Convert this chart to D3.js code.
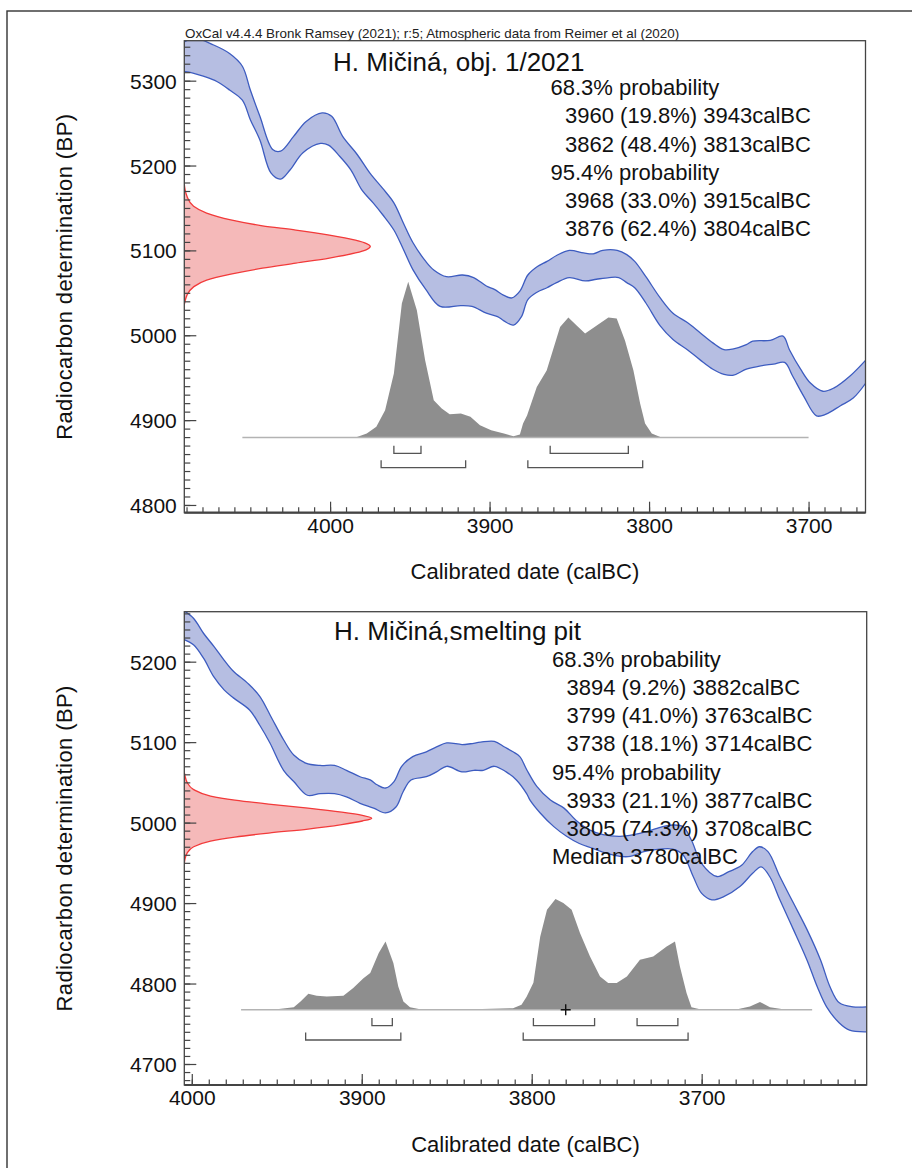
<!DOCTYPE html>
<html><head><meta charset="utf-8">
<script src="https://cdn.jsdelivr.net/npm/d3@7"></script>
<style>
html,body{margin:0;padding:0;background:#fff;}
svg{display:block;font-family:"Liberation Sans",Arial,Helvetica,sans-serif;}
</style></head><body>
<svg id="chart" width="912" height="1168"></svg>
<script>
// ---------------- DATA ----------------
const headerText = "OxCal v4.4.4 Bronk Ramsey (2021); r:5; Atmospheric data from Reimer et al (2020)";
const topTitle = "H. Mičiná, obj. 1/2021";
const bottomTitle = "H. Mičiná,smelting pit";
const xAxisLabel = "Calibrated date (calBC)";
const yAxisLabel = "Radiocarbon determination (BP)";

const xTicksTop = [4000, 3900, 3800, 3700];
const yTicksTop = [5300, 5200, 5100, 5000, 4900, 4800];
const xTicksBottom = [4000, 3900, 3800, 3700];
const yTicksBottom = [5200, 5100, 5000, 4900, 4800, 4700];

// calibration curve band, [calBC, BP]
const topCurveUpper = [[4092,5345],[4085,5350],[4073,5342],[4063,5332],[4055,5317],[4050,5289],[4044,5258],[4036,5219],[4031,5217],[4023,5234],[4015,5252],[4005,5262],[3999,5258],[3992,5234],[3983,5213],[3975,5191],[3967,5173],[3960,5156],[3954,5132],[3948,5109],[3940,5087],[3935,5077],[3927,5069],[3917,5071],[3910,5068],[3902,5058],[3897,5054],[3891,5047],[3886,5044],[3881,5052],[3876,5071],[3870,5081],[3864,5087],[3858,5094],[3850,5100],[3841,5097],[3835,5096],[3829,5100],[3820,5100],[3814,5095],[3809,5087],[3802,5069],[3793,5044],[3785,5026],[3776,5015],[3768,5003],[3760,4991],[3753,4983],[3747,4984],[3739,4989],[3735,4993],[3724,4994],[3716,4999],[3712,4983],[3705,4960],[3699,4944],[3691,4934],[3684,4938],[3674,4952],[3664,4971]];
const topCurveLower = [[4092,5311],[4086,5309],[4079,5305],[4071,5299],[4063,5289],[4055,5277],[4050,5254],[4044,5230],[4037,5191],[4031,5184],[4025,5195],[4017,5215],[4006,5226],[4001,5224],[3994,5211],[3987,5195],[3980,5171],[3973,5156],[3967,5142],[3960,5124],[3954,5101],[3948,5077],[3940,5054],[3931,5034],[3918,5035],[3911,5034],[3902,5026],[3895,5022],[3891,5017],[3885,5012],[3880,5022],[3876,5042],[3870,5051],[3864,5056],[3858,5062],[3850,5068],[3840,5064],[3833,5066],[3825,5068],[3819,5068],[3814,5062],[3809,5056],[3802,5038],[3793,5011],[3785,4995],[3776,4983],[3768,4971],[3760,4960],[3753,4954],[3747,4953],[3739,4960],[3730,4964],[3722,4966],[3715,4968],[3710,4952],[3703,4928],[3695,4905],[3689,4907],[3680,4917],[3672,4926],[3664,4944]];
const bottomCurveUpper = [[4005,5264],[3999,5254],[3993,5235],[3987,5219],[3981,5202],[3975.5,5188],[3967,5173],[3960,5157],[3953,5130],[3946,5103],[3940,5084],[3933,5074],[3924.5,5071],[3916,5071],[3909,5065],[3901,5057],[3895,5053],[3891,5047],[3886,5043],[3881,5051],[3876.5,5070],[3870,5082],[3862,5088],[3856,5094],[3850,5099],[3841,5097],[3836,5098],[3830,5100],[3822,5101],[3816,5094],[3811,5088],[3807,5082],[3803,5066],[3797,5045],[3789,5028],[3781,5018],[3774,5003],[3766,4991],[3758,4985],[3748,4983],[3740,4985],[3732,4989],[3723,4995],[3717,4997],[3711,4995],[3706,4978],[3700,4949],[3691,4933],[3684,4939],[3676.5,4947],[3670,4964],[3666,4970],[3661,4964],[3654,4933],[3646,4900],[3638,4867],[3630,4829],[3624.5,4796],[3619,4776],[3611,4771],[3603,4771]];
const bottomCurveLower = [[4005,5228],[3999,5221],[3993,5204],[3987,5181],[3981,5165],[3975.5,5155],[3966,5140],[3960,5121],[3954,5099],[3946,5065],[3940,5051],[3932,5034],[3924.5,5036],[3916,5036],[3909,5032],[3901,5024],[3893,5018],[3886,5012],[3880,5019],[3875.5,5039],[3871,5053],[3862,5057],[3856,5063],[3850,5070],[3841,5063],[3834,5065],[3828.5,5065],[3822,5070],[3815,5063],[3809,5053],[3803,5036],[3801,5028],[3795,5012],[3787,4995],[3779.5,4983],[3772,4974],[3764,4968],[3756,4962],[3748,4958],[3742,4958],[3734,4964],[3724.5,4967],[3717,4967],[3711,4960],[3705,4933],[3700,4912],[3694,4904],[3687,4908],[3677.5,4920.5],[3670,4937],[3665,4945],[3660,4933],[3654,4904],[3646,4867],[3638,4829],[3632,4796],[3626.5,4771],[3619,4751],[3613,4742],[3603,4740]];

// radiocarbon determination (red), [BP, relative density]
const topDate = [[5178,0],[5172,0.004],[5164,0.014],[5152,0.05],[5144,0.12],[5136,0.25],[5129,0.42],[5124,0.6],[5118,0.78],[5112,0.92],[5108,0.98],[5104.5,1],[5101,0.98],[5097,0.92],[5091,0.78],[5085,0.6],[5079,0.42],[5072,0.25],[5065,0.12],[5057,0.05],[5047,0.014],[5040,0.004],[5036,0]];
const bottomDate = [[5062,0],[5058,0.004],[5050,0.015],[5041,0.05],[5033,0.14],[5028,0.27],[5023,0.45],[5018,0.66],[5013,0.84],[5009,0.95],[5005.5,1],[5002,0.95],[4997.5,0.84],[4992,0.66],[4987,0.45],[4982,0.27],[4977,0.14],[4970,0.05],[4962,0.015],[4955,0.004],[4949,0]];

// calibrated posterior (grey), [calBC, relative probability]
const topPosterior = [[4055,0],[3984,0],[3977,0.026],[3971,0.069],[3965.5,0.175],[3960,0.411],[3955,0.861],[3951,1],[3945.6,0.818],[3940.4,0.496],[3935,0.24],[3930,0.186],[3925,0.15],[3918,0.154],[3912,0.133],[3906,0.079],[3899,0.047],[3891,0.026],[3885,0.008],[3881,0.019],[3879,0.09],[3876.5,0.141],[3870.4,0.325],[3864.2,0.43],[3855.8,0.71],[3850.6,0.771],[3845.4,0.719],[3840.1,0.668],[3832.8,0.719],[3825.5,0.771],[3820.3,0.764],[3815.1,0.623],[3809.8,0.43],[3805.6,0.218],[3802.5,0.09],[3798.3,0.026],[3793,0.004],[3785,0],[3700,0]];
const bottomPosterior = [[3971,0],[3950,0.006],[3940,0.024],[3936,0.075],[3931.4,0.145],[3926.5,0.126],[3920.6,0.12],[3910.8,0.126],[3905,0.196],[3899,0.286],[3895,0.332],[3890,0.512],[3886,0.617],[3881.4,0.422],[3878.5,0.21],[3875.5,0.075],[3871.6,0.024],[3865.7,0.006],[3840,0.003],[3811,0.015],[3806,0.045],[3803,0.117],[3799,0.244],[3795,0.659],[3791,0.903],[3786,1],[3781.4,0.964],[3776.5,0.903],[3771.6,0.693],[3765.7,0.481],[3759.8,0.301],[3755,0.241],[3750,0.241],[3744,0.301],[3736.3,0.452],[3728.5,0.481],[3720.6,0.572],[3715.7,0.617],[3712.8,0.391],[3708.9,0.151],[3706,0.024],[3701,0.006],[3679,0.006],[3671.6,0.03],[3665.7,0.07],[3659.8,0.024],[3652,0.006],[3635,0]];

// probability ranges [from, percent, to]
const topRanges68 = [[3960,19.8,3943],[3862,48.4,3813]];
const topRanges95 = [[3968,33.0,3915],[3876,62.4,3804]];
const bottomRanges68 = [[3894,9.2,3882],[3799,41.0,3763],[3738,18.1,3714]];
const bottomRanges95 = [[3933,21.1,3877],[3805,74.3,3708]];
const topMedian = null;
const bottomMedian = 3780;

// ---------------- LAYOUT ----------------
const panels = [
  { frame:{x0:184.3,y0:40.7,x1:865.5,y1:512.7}, xDomain:[4091.4,3664.3], yDomain:[4790.9,5347.1],
    xTicks:xTicksTop, yTicks:yTicksTop, upper:topCurveUpper, lower:topCurveLower,
    date:topDate, dateWidth:186, post:topPosterior, postHeight:155.7,
    r68:topRanges68, r95:topRanges95, median:topMedian, title:topTitle,
    titlePos:[333,70.7], textX:550.5, textIndent:565, textY0:95, textStep:28.25,
    xLabelY:579, header:true },
  { frame:{x0:184.3,y0:611.7,x1:866.7,y1:1085}, xDomain:[4004.4,3602.9], yDomain:[4673.9,5262.1],
    xTicks:xTicksBottom, yTicks:yTicksBottom, upper:bottomCurveUpper, lower:bottomCurveLower,
    date:bottomDate, dateWidth:187.4, post:bottomPosterior, postHeight:110.7,
    r68:bottomRanges68, r95:bottomRanges95, median:bottomMedian, title:bottomTitle,
    titlePos:[334,640], textX:552, textIndent:566.5, textY0:666.7, textStep:28.2,
    xLabelY:1151.5, header:false }
];

const FONT = '"Liberation Sans",Arial,Helvetica,sans-serif';
const svg = d3.select("#chart");

// outer border
svg.append("rect").attr("x",7).attr("y",11).attr("width",940).attr("height",1200)
  .attr("fill","none").attr("stroke","#333").attr("stroke-width",1.4);

svg.append("text").attr("x",185).attr("y",38.3).attr("font-size",13.4)
  .attr("fill","#222").text(headerText);

panels.forEach((P,i) => {
  const f = P.frame;
  const x = d3.scaleLinear().domain(P.xDomain).range([f.x0,f.x1]);
  const y = d3.scaleLinear().domain(P.yDomain).range([f.y1,f.y0]);
  const dx = d3.scaleLinear().domain([0,1]).range([f.x0, f.x0 + P.dateWidth]);
  const baseY = f.y1 - 75.2;
  const py = d3.scaleLinear().domain([0,1]).range([baseY, baseY - P.postHeight]);

  const clipId = "clip"+i;
  svg.append("clipPath").attr("id",clipId).append("rect")
    .attr("x",f.x0).attr("y",f.y0).attr("width",f.x1-f.x0).attr("height",f.y1-f.y0);
  const g = svg.append("g").attr("clip-path",`url(#${clipId})`);

  // calibration band
  const cl = d3.line().x(d=>x(d[0])).y(d=>y(d[1])).curve(d3.curveCatmullRom.alpha(0.5));
  const upPath = cl(P.upper);
  const loPath = cl(P.lower.slice().reverse());
  g.append("path").attr("d", upPath + "L" + loPath.slice(1) + "Z")
    .attr("fill","#b6bee2").attr("stroke","none");
  g.append("path").attr("d", upPath).attr("fill","none").attr("stroke","#3d5cc0").attr("stroke-width",1.3);
  g.append("path").attr("d", cl(P.lower)).attr("fill","none").attr("stroke","#3d5cc0").attr("stroke-width",1.3);

  // radiocarbon date
  const ra = d3.area().y(d=>y(d[0])).x0(f.x0).x1(d=>dx(d[1])).curve(d3.curveMonotoneY);
  g.append("path").datum(P.date).attr("d",ra).attr("fill","#f5b9b9");
  const rl = d3.line().y(d=>y(d[0])).x(d=>dx(d[1])).curve(d3.curveMonotoneY);
  g.append("path").datum(P.date).attr("d",rl).attr("fill","none").attr("stroke","#f23a3a").attr("stroke-width",1.3);

  // posterior
  const pa = d3.area().x(d=>x(d[0])).y0(baseY).y1(d=>py(d[1]));
  g.append("path").datum(P.post).attr("d",pa).attr("fill","#8e8e8e");
  const span = [P.post[0][0], P.post[P.post.length-1][0]];
  g.append("line").attr("x1",x(span[0])).attr("x2",x(span[1])).attr("y1",baseY).attr("y2",baseY)
    .attr("stroke","#b3b3b3").attr("stroke-width",1.5);

  // brackets
  const bracket = (r, off) => {
    const yy = baseY + off;
    g.append("path").attr("d",`M${x(r[0])},${yy-7.5}V${yy}H${x(r[2])}V${yy-7.5}`)
      .attr("fill","none").attr("stroke","#555").attr("stroke-width",1.3);
  };
  P.r68.forEach(r=>bracket(r,15.8));
  P.r95.forEach(r=>bracket(r,30.2));

  if (P.median !== null) {
    const mx = x(P.median);
    g.append("path").attr("d",`M${mx-5},${baseY}H${mx+5}M${mx},${baseY-5.5}V${baseY+5.5}`)
      .attr("stroke","#111").attr("stroke-width",1.4);
  }

  // text
  svg.append("text").attr("x",P.titlePos[0]).attr("y",P.titlePos[1]).attr("font-size",26)
    .attr("fill","#111").text(P.title);
  const lines = [];
  lines.push({t:"68.3% probability", ind:false});
  P.r68.forEach(r=>lines.push({t:`${r[0]} (${r[1].toFixed(1)}%) ${r[2]}calBC`, ind:true}));
  lines.push({t:"95.4% probability", ind:false});
  P.r95.forEach(r=>lines.push({t:`${r[0]} (${r[1].toFixed(1)}%) ${r[2]}calBC`, ind:true}));
  if (P.median !== null) lines.push({t:`Median ${P.median}calBC`, ind:false});
  lines.forEach((L,k)=>{
    svg.append("text").attr("x", L.ind ? P.textIndent : P.textX)
      .attr("y", P.textY0 + k*P.textStep).attr("font-size",22).attr("fill","#111").text(L.t);
  });

  // axes
  const ax = svg.append("g").attr("color","#444");
  const minorX = d3.range(Math.ceil(P.xDomain[1]/10)*10, P.xDomain[0], 10);
  ax.append("g").attr("transform",`translate(0,${f.y1})`)
    .call(d3.axisBottom(x).tickValues(minorX).tickSize(-5.5).tickFormat(""))
    .call(s=>s.select(".domain").remove());
  const xg = ax.append("g").attr("transform",`translate(0,${f.y1})`)
    .call(d3.axisBottom(x).tickValues(P.xTicks).tickSize(-11).tickPadding(5.5).tickFormat(d3.format("d")))
    .call(s=>s.select(".domain").remove());
  xg.attr("font-size",21).attr("font-family",FONT);
  xg.selectAll("text").attr("fill","#111");

  const minorY = d3.range(Math.ceil(P.yDomain[0]/10)*10, P.yDomain[1], 10);
  ax.append("g").attr("transform",`translate(${f.x0},0)`)
    .call(d3.axisLeft(y).tickValues(minorY).tickSize(-6).tickFormat(""))
    .call(s=>s.select(".domain").remove());
  const yg = ax.append("g").attr("transform",`translate(${f.x0},0)`)
    .call(d3.axisLeft(y).tickValues(P.yTicks).tickSize(-12).tickPadding(7.5).tickFormat(d3.format("d")))
    .call(s=>s.select(".domain").remove());
  yg.attr("font-size",21).attr("font-family",FONT);
  yg.selectAll("text").attr("fill","#111").attr("dy","0.36em");
  ax.selectAll(".tick line").attr("stroke-width",1.2);

  // frame
  svg.append("rect").attr("x",f.x0).attr("y",f.y0).attr("width",f.x1-f.x0).attr("height",f.y1-f.y0)
    .attr("fill","none").attr("stroke","#444").attr("stroke-width",1.3);
  svg.append("line").attr("x1",f.x0).attr("x2",f.x1).attr("y1",f.y1).attr("y2",f.y1)
    .attr("stroke","#444").attr("stroke-width",2.2);

  // axis labels
  svg.append("text").attr("x",(f.x0+f.x1)/2).attr("y",P.xLabelY).attr("text-anchor","middle")
    .attr("font-size",22).attr("fill","#111").text(xAxisLabel);
  svg.append("text").attr("transform",`translate(72,${(f.y0+f.y1)/2}) rotate(-90)`)
    .attr("text-anchor","middle").attr("font-size",22).attr("letter-spacing",0.4)
    .attr("fill","#111").text(yAxisLabel);
});
</script>
</body></html>
